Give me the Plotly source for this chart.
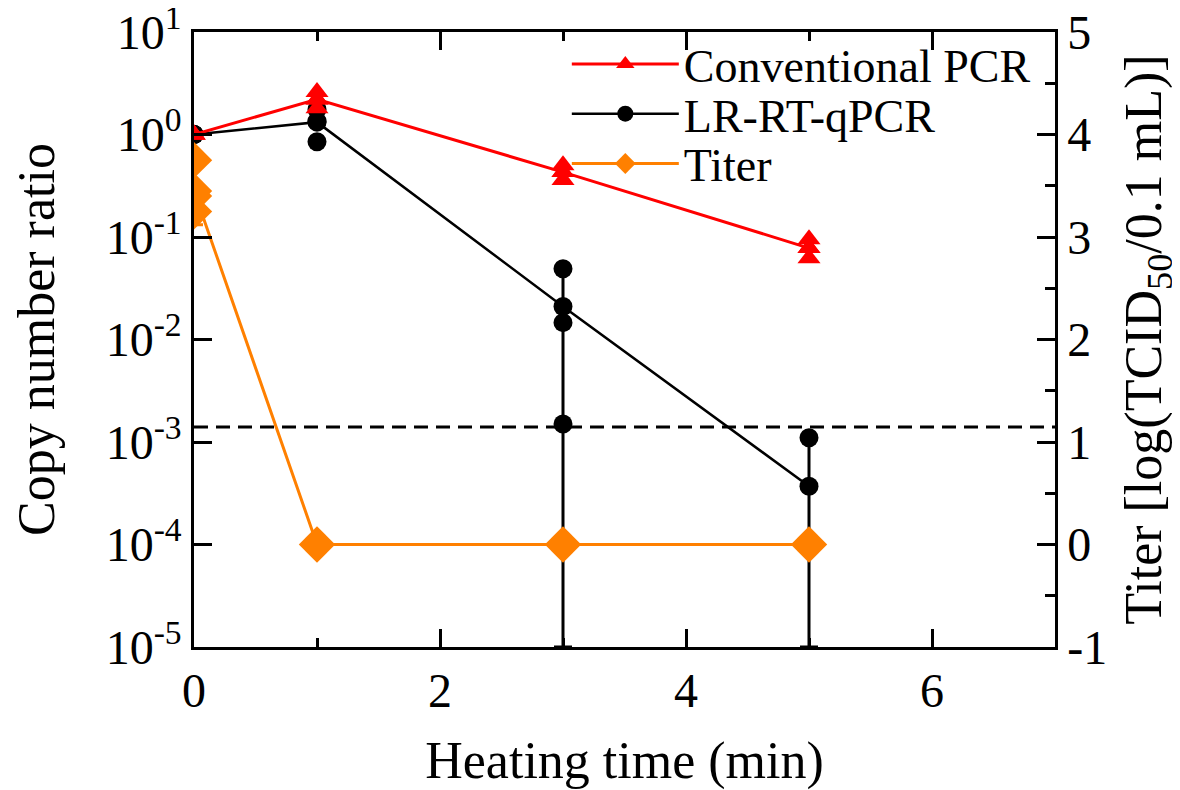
import plotly.graph_objects as go

# ---------------- data ----------------
time_points = [0, 1, 3, 5]

# Conventional PCR (copy number ratio)
pcr_mean = [1.0, 2.2, 0.43, 0.078]
pcr_rep_x = [0, 0, 0, 1, 1, 1, 3, 3, 3, 5, 5, 5]
pcr_rep_y = [1.0, 1.0, 1.0, 2.6, 2.2, 1.8, 0.50, 0.43, 0.36, 0.095, 0.078, 0.062]

# LR-RT-qPCR (copy number ratio)
lr_mean = [1.0, 1.32, 0.021, 0.00037]
lr_err_plus = [0.0, 0.0, 0.027, 0.00073]
lr_err_minus = [0.0, 0.0, 0.02099, 0.00036]
lr_rep_x = [0, 0, 0, 1, 1, 1, 3, 3, 3, 5]
lr_rep_y = [1.0, 1.0, 1.0, 1.75, 1.35, 0.85, 0.049, 0.0146, 0.0015, 0.0011]

# Titer [log(TCID50/0.1 mL)]
titer_mean = [3.45, 0.0, 0.0, 0.0]
titer_err = [0.33, 0.0, 0.0, 0.0]
titer_rep_x = [0, 0, 0]
titer_rep_y = [3.75, 3.40, 3.25]

detection_limit = 0.0014
x_range = [0, 7]

left_tickvals = [1e-5, 1e-4, 1e-3, 1e-2, 1e-1, 1, 10]
left_ticktext = ["10<sup>-5</sup>", "10<sup>-4</sup>", "10<sup>-3</sup>", "10<sup>-2</sup>",
                 "10<sup>-1</sup>", "10<sup>0</sup>", "10<sup>1</sup>"]
right_tickvals = [-1, 0, 1, 2, 3, 4, 5]
right_ticktext = ["-1", "0", "1", "2", "3", "4", "5"]

RED = "#ff0000"
BLACK = "#000000"
ORANGE = "#ff8000"
FONT = "Liberation Serif"
TICK_FS = 48
TITLE_FS = 52
LEG_FS = 46

fig = go.Figure()

# detection limit dashed line
fig.add_trace(go.Scatter(x=x_range, y=[detection_limit, detection_limit], mode="lines",
                         line=dict(color=BLACK, width=3, dash="14px,8px"),
                         showlegend=False, hoverinfo="skip", yaxis="y"))

# LR-RT-qPCR
fig.add_trace(go.Scatter(x=time_points, y=lr_mean, mode="lines+markers", name="LR-RT-qPCR",
                         line=dict(color=BLACK, width=2.5),
                         marker=dict(symbol="circle", size=19, color=BLACK),
                         error_y=dict(type="data", array=lr_err_plus, arrayminus=lr_err_minus,
                                      color=BLACK, thickness=3, width=9),
                         legend="legend2", yaxis="y"))
fig.add_trace(go.Scatter(x=lr_rep_x, y=lr_rep_y, mode="markers", showlegend=False,
                         marker=dict(symbol="circle", size=19, color=BLACK), yaxis="y"))

# Conventional PCR
fig.add_trace(go.Scatter(x=time_points, y=pcr_mean, mode="lines+markers", name="Conventional PCR",
                         line=dict(color=RED, width=3),
                         marker=dict(symbol="triangle-up", size=20, color=RED),
                         legend="legend", yaxis="y"))
fig.add_trace(go.Scatter(x=pcr_rep_x, y=pcr_rep_y, mode="markers", showlegend=False,
                         marker=dict(symbol="triangle-up", size=20, color=RED), yaxis="y"))

# Titer
fig.add_trace(go.Scatter(x=time_points, y=titer_mean, mode="lines+markers", name="Titer",
                         line=dict(color=ORANGE, width=3),
                         marker=dict(symbol="diamond", size=28, color=ORANGE),
                         error_y=dict(type="data", array=titer_err, color=ORANGE, thickness=3, width=9),
                         legend="legend3", yaxis="y2"))
fig.add_trace(go.Scatter(x=titer_rep_x, y=titer_rep_y, mode="markers", showlegend=False,
                         marker=dict(symbol="diamond", size=28, color=ORANGE), yaxis="y2"))

leg_common = dict(x=0.433, xanchor="left", yanchor="middle", bgcolor="rgba(0,0,0,0)",
                  font=dict(family=FONT, size=LEG_FS, color=BLACK), itemwidth=107)

fig.update_layout(
    width=1172, height=782,
    margin=dict(l=186, r=125, t=24, b=143, autoexpand=False),
    paper_bgcolor="white", plot_bgcolor="white",
    font=dict(family=FONT, size=TICK_FS, color=BLACK),
    showlegend=True,
    legend=dict(y=0.948, **leg_common),
    legend2=dict(y=0.867, **leg_common),
    legend3=dict(y=0.786, **leg_common),
    xaxis=dict(range=x_range, tickvals=[0, 2, 4, 6], ticks="inside", ticklen=18, tickwidth=2.5,
               tickcolor=BLACK, showline=True, linecolor=BLACK, linewidth=2.5, mirror="ticks",
               showgrid=False, zeroline=False, automargin=False, ticklabeloverflow="allow",
               minor=dict(dtick=1, ticks="inside", ticklen=9, tickwidth=2.5, tickcolor=BLACK, showgrid=False),
               title=dict(text="Heating time (min)", font=dict(family=FONT, size=TITLE_FS), standoff=30),
               tickfont=dict(family=FONT, size=TICK_FS)),
    yaxis=dict(type="log", range=[-5, 1], tickmode="array", tickvals=left_tickvals, ticktext=left_ticktext,
               ticks="inside", ticklen=18, tickwidth=2.5, tickcolor=BLACK, automargin=False,
               ticklabeloverflow="allow",
               showline=True, linecolor=BLACK, linewidth=2.5, showgrid=False, zeroline=False,
               title=dict(text="Copy number ratio", font=dict(family=FONT, size=TITLE_FS), standoff=56),
               tickfont=dict(family=FONT, size=TICK_FS)),
    yaxis2=dict(overlaying="y", side="right", range=[-1, 5], tickmode="array",
                tickvals=right_tickvals, ticktext=right_ticktext, automargin=False,
                ticklabeloverflow="allow",
                ticks="inside", ticklen=18, tickwidth=2.5, tickcolor=BLACK,
                minor=dict(dtick=0.5, ticks="inside", ticklen=10, tickwidth=2.5, tickcolor=BLACK, showgrid=False),
                showline=True, linecolor=BLACK, linewidth=2.5, showgrid=False, zeroline=False,
                title=dict(text="Titer [log(TCID<sub>50</sub>/0.1 mL)]", font=dict(family=FONT, size=TITLE_FS), standoff=22),
                tickfont=dict(family=FONT, size=TICK_FS)),
)

fig.write_html("out.html")
